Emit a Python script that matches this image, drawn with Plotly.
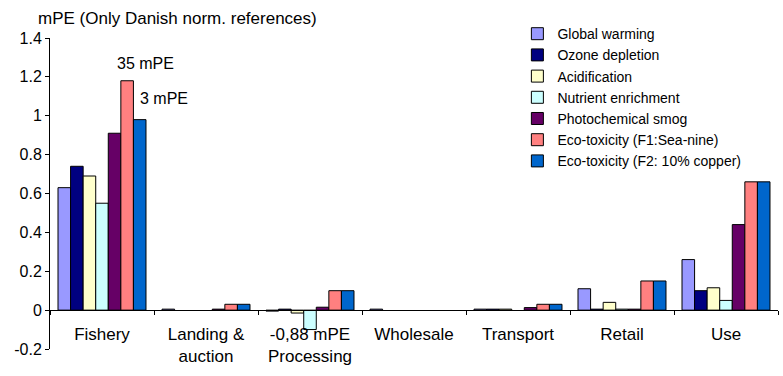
import plotly.graph_objects as go

categories = ["Fishery", "Landing &<br>auction", "-0,88 mPE<br>Processing", "Wholesale", "Transport", "Retail", "Use"]
series_names = ["Global warming", "Ozone depletion", "Acidification", "Nutrient enrichment",
                "Photochemical smog", "Eco-toxicity (F1:Sea-nine)", "Eco-toxicity (F2: 10% copper)"]
global_warming = [0.63, 0.005, -0.005, 0.005, 0.005, 0.11, 0.26]
ozone_depletion = [0.74, None, 0.005, None, 0.005, 0.005, 0.10]
acidification = [0.69, None, -0.015, None, 0.005, 0.04, 0.115]
nutrient_enrichment = [0.55, None, -0.10, None, None, 0.005, 0.05]
photochemical_smog = [0.91, 0.005, 0.015, None, 0.013, 0.005, 0.44]
eco_tox_f1 = [1.18, 0.03, 0.10, None, 0.03, 0.15, 0.66]
eco_tox_f2 = [0.98, 0.03, 0.10, None, 0.03, 0.15, 0.66]
colors = ["#9999FF", "#000080", "#FFFFCC", "#CCFFFF", "#660066", "#FF8080", "#0066CC"]

y_ticks = [-0.2, 0, 0.2, 0.4, 0.6, 0.8, 1, 1.2, 1.4]
y_tick_text = ["-0.2", "0", "0.2", "0.4", "0.6", "0.8", "1", "1.2", "1.4"]

all_series = [global_warming, ozone_depletion, acidification, nutrient_enrichment,
              photochemical_smog, eco_tox_f1, eco_tox_f2]

FONT = "Liberation Sans, Arial, sans-serif"

fig = go.Figure()
for name, vals, col in zip(series_names, all_series, colors):
    fig.add_trace(go.Bar(x=categories, y=vals, name=name,
                         marker=dict(color=col, line=dict(color="black", width=1))))

fig.update_layout(
    width=783, height=376,
    margin=dict(l=50, r=5, t=38, b=27, autoexpand=False),
    paper_bgcolor="white", plot_bgcolor="white",
    barmode="group", bargap=0.154, bargroupgap=0,
    font=dict(family=FONT, size=17, color="black"),
    showlegend=True,
    legend=dict(x=0.642, y=1.064, xanchor="left", yanchor="top",
                font=dict(size=14, family=FONT), bgcolor="rgba(0,0,0,0)",
                tracegroupgap=0),
    title=dict(text="mPE (Only Danish norm. references)", x=38/783, xanchor="left",
               xref="container", y=1 - 18/376, yanchor="middle", yref="container",
               font=dict(size=17, family=FONT)),
    xaxis=dict(type="category", anchor="free", position=0.125, automargin=False,
               showline=True, linecolor="black", linewidth=1,
               ticks="outside", ticklen=4, tickcolor="black", tickson="boundaries",
               ticklabelstandoff=8, showgrid=False, tickfont=dict(size=17)),
    yaxis=dict(range=[-0.2, 1.4], tickvals=y_ticks, ticktext=y_tick_text, automargin=False,
               showline=True, linecolor="black", linewidth=1,
               ticks="outside", ticklen=4, tickcolor="black",
               showgrid=False, zeroline=False, tickfont=dict(size=16)),
)

fig.add_annotation(x=categories[0], y=1.27, xref="x", yref="y", text="35 mPE",
                   showarrow=False, xshift=43, font=dict(size=16))
fig.add_annotation(x=categories[0], y=1.09, xref="x", yref="y", text="3 mPE",
                   showarrow=False, xshift=36, xanchor="left", font=dict(size=16))

fig.write_html("out.html", config={"displayModeBar": False},
               post_script="document.body.style.margin='0';document.body.style.overflow='hidden';")
